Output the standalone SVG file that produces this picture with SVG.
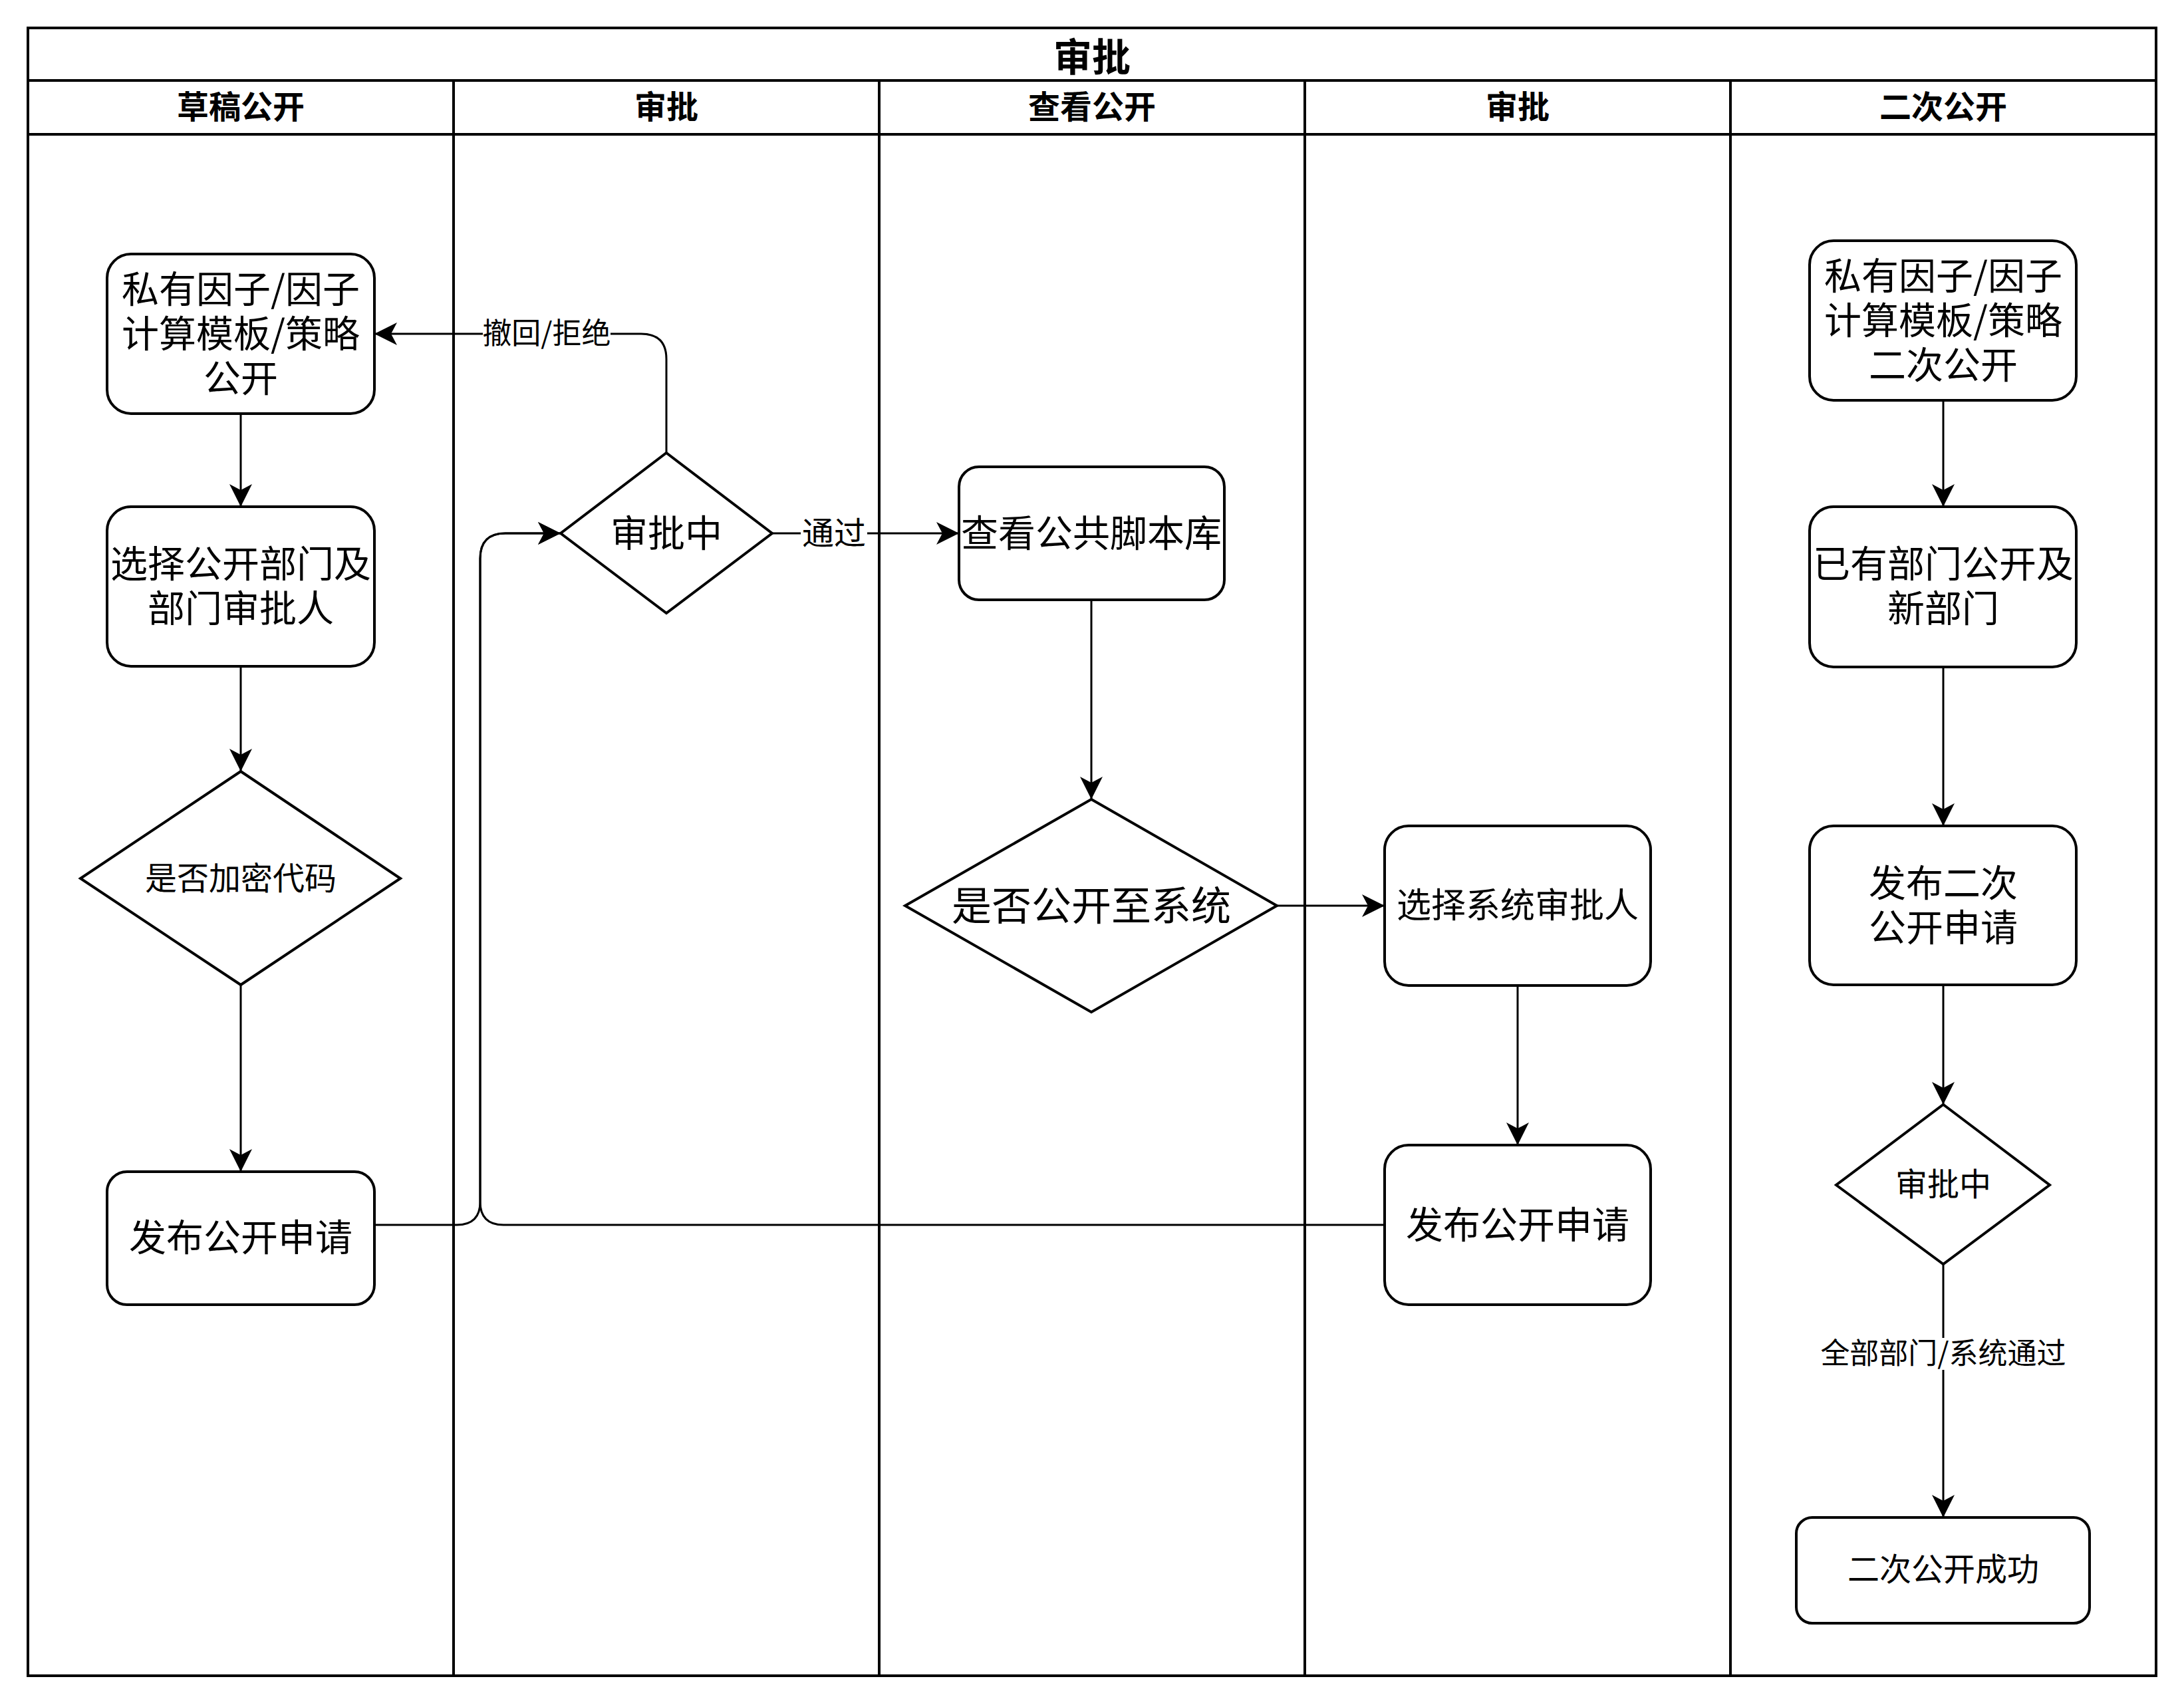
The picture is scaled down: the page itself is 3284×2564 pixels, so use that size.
<svg xmlns="http://www.w3.org/2000/svg" width="3284" height="2564" viewBox="0 0 3284 2564">
<style>
text{font-family:"Noto Sans CJK SC","Noto Sans",sans-serif;fill:#000;text-anchor:middle;dominant-baseline:central}
.frame{fill:none;stroke:#000;stroke-width:4}
.node{fill:#fff;stroke:#000;stroke-width:4}
.edge{fill:none;stroke:#000;stroke-width:3}
.hd{font-weight:bold;font-size:48px}
.t56{font-size:56px}
.t48{font-size:48px}
.lbl{font-size:44px}
</style>
<defs>
<marker id="arr" markerUnits="userSpaceOnUse" markerWidth="36" markerHeight="36" refX="34" refY="17" orient="auto" viewBox="0 0 36 36">
<path d="M0,0 L34,17 L0,34 L9,17 Z" fill="#000"/>
</marker>
</defs>
<rect width="3284" height="2564" fill="#fff"/>
<g id="pool">
<rect class="frame" x="42" y="42" width="3200" height="2478"/>
<line class="frame" x1="42" y1="121" x2="3242" y2="121"/>
<line class="frame" x1="42" y1="202" x2="3242" y2="202"/>
<line class="frame" x1="682" y1="121" x2="682" y2="2520"/>
<line class="frame" x1="1322" y1="121" x2="1322" y2="2520"/>
<line class="frame" x1="1962" y1="121" x2="1962" y2="2520"/>
<line class="frame" x1="2602" y1="121" x2="2602" y2="2520"/>
<text x="1642" y="82" style="font-weight:bold;font-size:58px">审批</text>
<text class="hd" x="362" y="157">草稿公开</text>
<text class="hd" x="1002" y="157">审批</text>
<text class="hd" x="1642" y="157">查看公开</text>
<text class="hd" x="2282" y="157">审批</text>
<text class="hd" x="2922" y="157">二次公开</text>
</g>
<g id="edges">
<path class="edge" marker-end="url(#arr)" d="M362,622 L362,762"/>
<path class="edge" marker-end="url(#arr)" d="M362,1001 L362,1160"/>
<path class="edge" marker-end="url(#arr)" d="M362,1481 L362,1762"/>
<path class="edge" marker-end="url(#arr)" d="M563,1842 L687,1842 Q722,1842 722,1807 L722,840 Q722,802 760,802 L843,802"/>
<path class="edge" marker-end="url(#arr)" d="M2082,1842 L757,1842 Q722,1842 722,1807 L722,840 Q722,802 760,802 L843,802"/>
<path class="edge" marker-end="url(#arr)" d="M1002,681 L1002,540 Q1002,502 964,502 L563,502"/>
<rect x="726" y="478" width="192" height="48" fill="#fff"/>
<text class="lbl" x="822" y="498">撤回/拒绝</text>
<path class="edge" marker-end="url(#arr)" d="M1161,802 L1442,802"/>
<rect x="1204" y="778" width="100" height="48" fill="#fff"/>
<text class="t48" x="1254" y="798">通过</text>
<path class="edge" marker-end="url(#arr)" d="M1641,902 L1641,1202"/>
<path class="edge" marker-end="url(#arr)" d="M1920,1362 L2082,1362"/>
<path class="edge" marker-end="url(#arr)" d="M2282,1482 L2282,1722"/>
<path class="edge" marker-end="url(#arr)" d="M2922,602 L2922,762"/>
<path class="edge" marker-end="url(#arr)" d="M2922,1003 L2922,1242"/>
<path class="edge" marker-end="url(#arr)" d="M2922,1481 L2922,1661"/>
<path class="edge" marker-end="url(#arr)" d="M2922,1901 L2922,2282"/>
<rect x="2739" y="2012" width="366" height="48" fill="#fff"/>
<text class="lbl" x="2922" y="2032">全部部门/系统通过</text>
</g>
<g id="n1">
<rect class="node" x="161" y="382" width="402" height="240" rx="36"/>
<text class="t56" x="362" y="430"><tspan x="362">私有因子/因子</tspan><tspan x="362" dy="67">计算模板/策略</tspan><tspan x="362" dy="67">公开</tspan></text>
</g>
<g id="n2">
<rect class="node" x="161" y="762" width="402" height="240" rx="36"/>
<text class="t56" x="362" y="843"><tspan x="362">选择公开部门及</tspan><tspan x="362" dy="67">部门审批人</tspan></text>
</g>
<g id="n3">
<polygon class="node" points="362,1160 602,1321 362,1481 121,1321"/>
<text class="t48" x="362" y="1317">是否加密代码</text>
</g>
<g id="n4">
<rect class="node" x="161" y="1762" width="402" height="200" rx="30"/>
<text class="t56" x="362" y="1856">发布公开申请</text>
</g>
<g id="n5">
<polygon class="node" points="1002,681 1161,802 1002,922 843,802"/>
<text class="t56" x="1002" y="797">审批中</text>
</g>
<g id="n6">
<rect class="node" x="1442" y="702" width="399" height="200" rx="30"/>
<text class="t56" x="1641" y="797">查看公共脚本库</text>
</g>
<g id="n7">
<polygon class="node" points="1641,1202 1920,1362 1641,1522 1361,1362"/>
<text style="font-size:60px" x="1641" y="1357">是否公开至系统</text>
</g>
<g id="n8">
<rect class="node" x="2082" y="1242" width="400" height="240" rx="36"/>
<text style="font-size:52px" x="2282" y="1357">选择系统审批人</text>
</g>
<g id="n9">
<rect class="node" x="2082" y="1722" width="400" height="240" rx="36"/>
<text class="t56" x="2282" y="1837">发布公开申请</text>
</g>
<g id="n10">
<rect class="node" x="2721" y="362" width="401" height="240" rx="36"/>
<text class="t56" x="2922" y="410"><tspan x="2922">私有因子/因子</tspan><tspan x="2922" dy="67">计算模板/策略</tspan><tspan x="2922" dy="67">二次公开</tspan></text>
</g>
<g id="n11">
<rect class="node" x="2721" y="762" width="401" height="241" rx="36"/>
<text class="t56" x="2922" y="843"><tspan x="2922">已有部门公开及</tspan><tspan x="2922" dy="67">新部门</tspan></text>
</g>
<g id="n12">
<rect class="node" x="2721" y="1242" width="401" height="239" rx="36"/>
<text class="t56" x="2922" y="1323"><tspan x="2922">发布二次</tspan><tspan x="2922" dy="67">公开申请</tspan></text>
</g>
<g id="n13">
<polygon class="node" points="2922,1661 3082,1782 2922,1901 2761,1782"/>
<text class="t48" x="2922" y="1777">审批中</text>
</g>
<g id="n14">
<rect class="node" x="2701" y="2282" width="441" height="159" rx="24"/>
<text class="t48" x="2922" y="2356">二次公开成功</text>
</g>
</svg>
